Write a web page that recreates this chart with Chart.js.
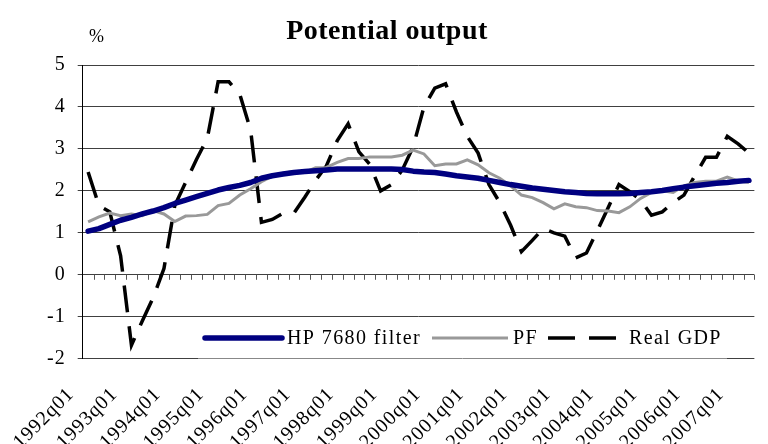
<!DOCTYPE html>
<html>
<head>
<meta charset="utf-8">
<script src="https://cdn.jsdelivr.net/npm/chart.js@4"></script>
<style>
  html, body { margin: 0; padding: 0; background: #fff; overflow: hidden; }
  #wrap { width: 768px; height: 444px; overflow: hidden; }
  canvas { display: block; }
</style>
</head>
<body>
<div id="wrap"><canvas id="chart" width="790" height="444"></canvas></div>
<script>
// quarters 1992q1 .. 2007q2 (the last one falls just past the right edge, like the cropped original)
const years = [1992, 1993, 1994, 1995, 1996, 1997, 1998, 1999, 2000, 2001, 2002, 2003, 2004, 2005, 2006, 2007];
const quarterNames = ['q01', 'q02', 'q03', 'q04'];
const quarters = years.flatMap(y => quarterNames.map(q => y + q)).slice(0, 62);

const hpFilter = [
  1.04, 1.10, 1.20, 1.30, 1.37, 1.45, 1.52, 1.60, 1.70, 1.78, 1.86, 1.94, 2.02, 2.08, 2.13, 2.20,
  2.30, 2.36, 2.40, 2.44, 2.46, 2.48, 2.50, 2.52, 2.52, 2.52, 2.52, 2.52, 2.52, 2.51, 2.47, 2.45,
  2.44, 2.40, 2.36, 2.33, 2.30, 2.25, 2.20, 2.15, 2.11, 2.07, 2.04, 2.01, 1.98, 1.96, 1.94, 1.93,
  1.93, 1.93, 1.94, 1.96, 1.98, 2.01, 2.05, 2.09, 2.12, 2.15, 2.18, 2.20, 2.23, 2.25
];
const pf = [
  1.26, 1.38, 1.47, 1.41, 1.45, 1.41, 1.53, 1.45, 1.27, 1.40, 1.41, 1.44, 1.65, 1.70, 1.90, 2.05,
  2.22, 2.35, 2.42, 2.46, 2.44, 2.55, 2.56, 2.68, 2.77, 2.77, 2.81, 2.81, 2.81, 2.85, 2.97, 2.88,
  2.60, 2.64, 2.64, 2.74, 2.62, 2.43, 2.30, 2.12, 1.90, 1.84, 1.72, 1.57, 1.69, 1.62, 1.60, 1.53,
  1.52, 1.48, 1.62, 1.82, 1.96, 2.00, 1.96, 2.12, 2.20, 2.23, 2.23, 2.33, 2.24, 2.20
];
const realGdp = [
  2.45, 1.65, 1.50, 0.45, -1.68, -1.10, -0.55, 0.15, 1.65, 2.20, 2.75, 3.25, 4.60, 4.60, 4.30, 3.45,
  1.25, 1.32, 1.47, 1.47, 1.85, 2.25, 2.60, 3.20, 3.60, 2.93, 2.63, 2.00, 2.15, 2.50, 3.05, 4.00,
  4.45, 4.55, 3.88, 3.30, 2.90, 2.15, 1.72, 1.18, 0.55, 0.82, 1.10, 1.00, 0.92, 0.40, 0.52, 1.05,
  1.60, 2.15, 1.98, 1.78, 1.42, 1.50, 1.72, 1.90, 2.36, 2.80, 2.80, 3.30, 3.12, 2.90
];
const yTicks = [-2, -1, 0, 1, 2, 3, 4, 5];
const seriesNames = ['HP 7680 filter', 'PF', 'Real GDP'];

const serif = '"Liberation Serif", "Times New Roman", serif';

const decor = {
  id: 'decor',
  beforeDraw(chart) {
    chart.ctx.letterSpacing = '1px';
  },
  beforeDatasetsDraw(chart) {
    // small quarterly tick marks on the zero line
    const ctx = chart.ctx;
    const xs = chart.scales.x;
    const y0 = chart.scales.y.getPixelForValue(0);
    const step = xs.width / quarters.length;
    ctx.save();
    ctx.strokeStyle = '#555';
    ctx.lineWidth = 1;
    ctx.beginPath();
    for (let i = 1; i <= quarters.length; i++) {
      const x = Math.round(xs.left + i * step) + 0.5;
      ctx.moveTo(x, y0);
      ctx.lineTo(x, y0 + 5);
    }
    ctx.stroke();
    ctx.restore();
  },
  afterDraw(chart) {
    const ctx = chart.ctx;
    const ds = chart.data.datasets;
    ctx.save();
    ctx.fillStyle = '#000';

    // title and unit
    ctx.letterSpacing = '0.5px';
    ctx.font = 'bold 28px ' + serif;
    ctx.textAlign = 'center';
    ctx.textBaseline = 'alphabetic';
    ctx.fillText('Potential output', 387, 39);
    ctx.font = '18px ' + serif;
    ctx.textAlign = 'left';
    ctx.fillText('%', 89, 42);

    // legend box inside the plot
    const top = 318, bottom = 358.5, left = 198, right = 727;
    ctx.fillStyle = '#fff';
    ctx.fillRect(left, top, right - left, bottom - top + 1);
    ctx.strokeStyle = '#888';
    ctx.lineWidth = 1;
    ctx.beginPath();
    ctx.moveTo(left, bottom);
    ctx.lineTo(right, bottom);
    ctx.stroke();

    const ly = 338;
    const items = [
      { x0: 205, x1: 282, tx: 287 },
      { x0: 432, x1: 508, tx: 513 },
      { x0: 548, x1: 621, tx: 629 }
    ];
    ctx.font = '20px ' + serif;
    ctx.letterSpacing = '1.4px';
    ctx.textBaseline = 'middle';
    items.forEach((it, i) => {
      ctx.save();
      ctx.strokeStyle = ds[i].borderColor;
      ctx.lineWidth = ds[i].borderWidth;
      ctx.lineCap = i === 0 ? 'round' : 'butt';
      ctx.setLineDash(ds[i].borderDash || []);
      ctx.beginPath();
      ctx.moveTo(it.x0, ly);
      ctx.lineTo(it.x1, ly);
      ctx.stroke();
      ctx.restore();
      ctx.fillStyle = '#000';
      ctx.fillText(seriesNames[i], it.tx, ly + 1);
    });
    ctx.restore();
  }
};

new Chart(document.getElementById('chart'), {
  type: 'line',
  data: {
    labels: quarters,
    datasets: [
      { label: seriesNames[0], data: hpFilter, borderColor: '#000080', borderWidth: 5.5,
        borderCapStyle: 'round', borderJoinStyle: 'round' },
      { label: seriesNames[1], data: pf, borderColor: '#999999', borderWidth: 3 },
      { label: seriesNames[2], data: realGdp, borderColor: '#000000', borderWidth: 3.5,
        borderDash: [27, 14] }
    ]
  },
  options: {
    responsive: false,
    animation: false,
    events: [],
    layout: { padding: { left: 0, right: 8.6, top: 65, bottom: 0 } },
    elements: { point: { radius: 0 }, line: { tension: 0 } },
    plugins: { legend: { display: false }, title: { display: false }, tooltip: { enabled: false } },
    scales: {
      x: {
        offset: true,
        grid: { display: false, drawTicks: false },
        border: { display: false },
        ticks: {
          autoSkip: false,
          minRotation: 45,
          maxRotation: 45,
          padding: 24,
          labelOffset: -17,
          color: '#000',
          font: { family: serif, size: 20 },
          callback: (v, i) => quarters[i].endsWith('q01') ? quarters[i] : ''
        },
        afterFit: s => { s.height = 444 - 358.7; }
      },
      y: {
        min: -2,
        max: 5,
        afterBuildTicks: s => { s.ticks = yTicks.map(v => ({ value: v })); },
        grid: { color: '#404040', lineWidth: 1, tickLength: 5 },
        border: { display: true, color: '#000', width: 1 },
        ticks: { color: '#000', padding: 12, font: { family: serif, size: 20 } },
        afterFit: s => { s.width = 82.7; }
      }
    }
  },
  plugins: [decor]
});
</script>
</body>
</html>
